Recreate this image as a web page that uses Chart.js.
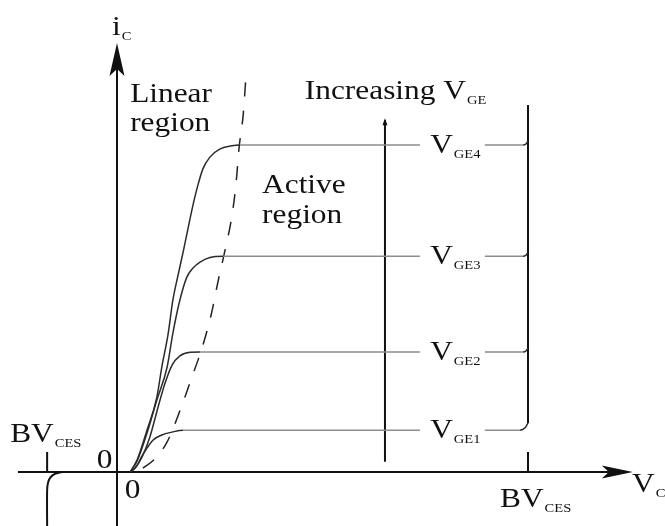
<!DOCTYPE html>
<html>
<head>
<meta charset="utf-8">
<script src="https://cdn.jsdelivr.net/npm/chart.js@4/dist/chart.umd.min.js"></script>
<style>
  html, body { margin: 0; padding: 0; background: #fff; }
  canvas { display: block; }
</style>
</head>
<body>
<canvas id="c" width="665" height="526"></canvas>
<script>
// IGBT output characteristics: collector current i_C against v_CE
// for four gate voltages, with the linear/active boundary and breakdown.
// Units are arbitrary: v_CE is scaled so that BV_CES = 100, i_C so that the top curve = 100.

const BV_CES = 100;
const BV_CES_REV = -17;

// each curve: [v_CE, i_C]; a null i_C breaks the line where its label sits
const vge1 = [[3.2,0],[4.6,1.5],[6.1,4.9],[7.3,7.3],[8.8,9.8],[10.9,11.3],[13.4,12.2],[16.1,12.8],[73.7,12.8],[81,null],[89.5,12.8],[98.0,12.8],[99.3,13.5],[100,15.0]];
const vge2 = [[3.2,0],[4.4,1.2],[6.1,4.6],[8.0,10.7],[10.0,19.9],[11.7,27.2],[13.4,32.7],[15.3,35.5],[17.8,36.6],[20.2,36.7],[73.7,36.7],[81,null],[89.5,36.7],[98.8,36.7],[99.5,37.0],[100,37.9]];
const vge3 = [[3.2,0],[4.9,3.4],[7.3,11.9],[9.7,22.0],[12.2,32.1],[13.6,42.5],[15.3,52.6],[17.0,59.6],[18.5,62.4],[20.2,64.2],[22.6,65.6],[25.8,66.0],[73.7,66.0],[81,null],[89.5,66.0],[98.8,66.0],[99.5,66.3],[100,67.2]];
const vge4 = [[3.2,0],[4.9,3.7],[7.3,12.8],[9.7,22.9],[10.9,32.1],[12.4,41.9],[13.6,52.6],[14.8,59.9],[16.1,67.3],[17.3,74.6],[18.5,81.7],[19.7,87.8],[20.9,92.7],[22.6,96.3],[25.1,98.8],[28.0,99.8],[29.9,100],[73.7,100],[81,null],[89.5,100],[98.8,100],[99.5,100.3],[100,101.2]];
const curveNames = ['1', '2', '3', '4'];

// boundary between linear and active region
const boundary = [[6.3,1.2],[9.2,4.0],[12.2,9.2],[15.3,18.7],[17.8,27.5],[20.9,38.8],[22.9,48.0],[24.6,58.4],[26.3,67.9],[28.0,78.6],[29.0,88.7],[29.7,99.1],[30.7,109.2],[31.4,121.4]];

// avalanche breakdown (forward: vertical rise at BV_CES; reverse: drop at -BV)
const fwdBreakdown = [[BV_CES,15.0],[BV_CES,112.2]];
const revBreakdown = [[-13.4,0],[-15.1,-0.6],[-16.3,-1.8],[-16.8,-3.4],[BV_CES_REV,-5.5],[BV_CES_REV,-16.5]];
const fwdTick = [[BV_CES,6.1],[BV_CES,0]];
const revTick = [[BV_CES_REV,6.1],[BV_CES_REV,0]];

// "Increasing V_GE" pointer
const gatePointer = [[65.2,3.1],[65.2,107.6]];

// axes
const xAxisLine = [[-24.1,0],[121,0]];
const yAxisLine = [[0,-16.5],[0,126]];
const xTip = 125.5, yTip = 131.2;

const FONT = '"Liberation Serif", "Times New Roman", serif';
const STRETCH = 1.12;

// text notes in data coordinates (baseline-left)
const notes = [
  { v: 3.2,  i: 113.1, main: 'Linear' },
  { v: 3.2,  i: 104.3, main: 'region' },
  { v: 35.3, i: 85.3,  main: 'Active' },
  { v: 35.3, i: 76.1,  main: 'region' },
  { v: 45.7, i: 114.1, main: 'Increasing V', sub: 'GE' },
  { v: -1.2, i: 133.6, main: 'i', sub: 'C' },
  { v: 125.3,i: -6.1,  main: 'V', sub: 'CE' },
  { v: 93.2, i: -10.7, main: 'BV', sub: 'CES' },
  { v: -26.0,i: 9.2,   main: 'BV', sub: 'CES' },
  { v: -4.9, i: 1.2,   main: '0' },
  { v: 1.9,  i: -8.0,  main: '0' }
];

const pts = arr => arr.map(([x, y]) => ({ x, y }));

const curveSeg = {
  borderColor: c => (c.p0.parsed.y === c.p1.parsed.y ? '#8c8c8c' : '#2b2b2b')
};

function curveSet(arr) {
  return {
    data: pts(arr), showLine: true, pointRadius: 0, borderWidth: 1.5,
    borderColor: '#2b2b2b', segment: curveSeg, cubicInterpolationMode: 'monotone',
    spanGaps: false
  };
}
function plainSet(arr, width, extra) {
  return Object.assign({
    data: pts(arr), showLine: true, pointRadius: 0, borderWidth: width,
    borderColor: '#111', tension: 0
  }, extra || {});
}

function drawText(ctx, s, x, y, size) {
  ctx.save();
  ctx.font = size + 'px ' + FONT;
  ctx.translate(x, y);
  ctx.scale(STRETCH, 1);
  ctx.fillText(s, 0, 0);
  const w = ctx.measureText(s).width * STRETCH;
  ctx.restore();
  return w;
}
function drawNote(ctx, x, y, main, sub) {
  const w = drawText(ctx, main, x, y, 28);
  if (sub) drawText(ctx, sub, x + w + 1, y + 5, 13);
}

// plateau current of a curve: the last value before its label gap
function plateau(c) {
  const gap = c.findIndex(p => p[1] === null);
  return c[gap - 1][1];
}

const overlay = {
  id: 'overlay',
  afterDatasetsDraw(chart) {
    const { ctx } = chart;
    const sx = chart.scales.x, sy = chart.scales.y;
    const X = v => sx.getPixelForValue(v), Y = i => sy.getPixelForValue(i);
    ctx.save();
    ctx.fillStyle = '#111';

    // x axis arrowhead
    let tx = X(xTip), ty = Y(0);
    ctx.beginPath();
    ctx.moveTo(tx, ty);
    ctx.lineTo(tx - 31, ty - 6.5);
    ctx.lineTo(tx - 24, ty);
    ctx.lineTo(tx - 31, ty + 6.5);
    ctx.closePath();
    ctx.fill();

    // y axis arrowhead
    tx = X(0); ty = Y(yTip);
    ctx.beginPath();
    ctx.moveTo(tx, ty);
    ctx.lineTo(tx - 7.5, ty + 33);
    ctx.lineTo(tx, ty + 26);
    ctx.lineTo(tx + 7.5, ty + 33);
    ctx.closePath();
    ctx.fill();

    // small head on the gate-voltage pointer
    const g = gatePointer[gatePointer.length - 1];
    tx = X(g[0]); ty = Y(g[1]);
    ctx.beginPath();
    ctx.moveTo(tx, ty - 2);
    ctx.lineTo(tx - 2.5, ty + 5);
    ctx.lineTo(tx + 2.5, ty + 5);
    ctx.closePath();
    ctx.fill();

    // text
    ctx.textBaseline = 'alphabetic';
    notes.forEach(n => drawNote(ctx, X(n.v), Y(n.i), n.main, n.sub));

    // V_GE labels in the gap of each curve
    [vge1, vge2, vge3, vge4].forEach((c, k) => {
      drawNote(ctx, X(76.2), Y(plateau(c)) + 8, 'V', 'GE' + curveNames[k]);
    });
    ctx.restore();
  }
};

new Chart(document.getElementById('c'), {
  type: 'scatter',
  data: {
    datasets: [
      curveSet(vge1), curveSet(vge2), curveSet(vge3), curveSet(vge4),
      plainSet(boundary, 1.5, { borderDash: [14, 14], borderColor: '#222', cubicInterpolationMode: 'monotone' }),
      plainSet(fwdBreakdown, 2),
      plainSet(revBreakdown, 2, { tension: 0.35 }),
      plainSet(fwdTick, 2),
      plainSet(revTick, 2),
      plainSet(gatePointer, 2),
      plainSet(xAxisLine, 2),
      plainSet(yAxisLine, 2)
    ]
  },
  options: {
    responsive: false,
    animation: false,
    layout: { padding: 0 },
    plugins: { legend: { display: false }, tooltip: { enabled: false } },
    scales: {
      x: { type: 'linear', display: false, min: -28.467, max: 133.333 },
      y: { type: 'linear', display: false, min: -16.514, max: 144.343 }
    }
  },
  plugins: [overlay]
});
</script>
</body>
</html>
